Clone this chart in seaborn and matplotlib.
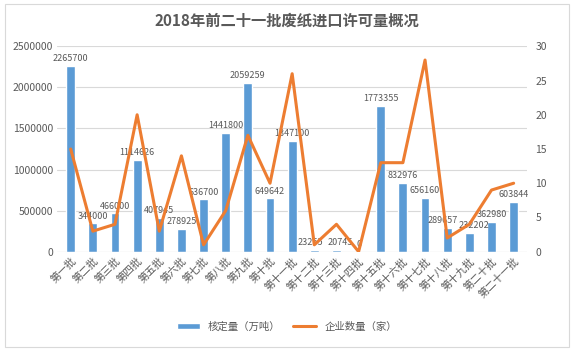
import numpy as np
import pandas as pd
import matplotlib
matplotlib.use("Agg")
import matplotlib.pyplot as plt
import seaborn as sns
from matplotlib.patches import Patch
from matplotlib.lines import Line2D
from matplotlib.ticker import StrMethodFormatter

batches = ['第一批', '第二批', '第三批', '第四批', '第五批', '第六批', '第七批',
           '第八批', '第九批', '第十批', '第十一批', '第十二批', '第十三批', '第十四批',
           '第十五批', '第十六批', '第十七批', '第十八批', '第十九批', '第二十批', '第二十一批']
approved = [2265700, 344000, 466000, 1114626, 407945, 278925, 636700,
            1441800, 2059259, 649642, 1347100, 23255, 20745, 0,
            1773355, 832976, 656160, 289657, 232202, 362980, 603844]
companies = [15, 3, 4, 20, 3, 14, 1, 6, 17, 10, 26, 1, 4, 0,
             13, 13, 28, 2, 4, 9, 10]

bar_color = '#5B9BD5'
line_color = '#ED7D31'
text_color = '#595959'

sns.set_style('white')
plt.rcParams['font.family'] = ['Noto Sans CJK SC', 'DejaVu Sans']

df = pd.DataFrame({'batch': batches, 'approved': approved, 'companies': companies})

fig = plt.figure(figsize=(5.74, 3.51), dpi=100)
ax = fig.add_axes([0.1, 0.283, 0.818, 0.585])

sns.barplot(x='batch', y='approved', data=df, color=bar_color, width=0.4,
            saturation=1, ax=ax)
ax.set_ylim(0, 2500000)
ax.set_yticks(np.arange(0, 2500001, 500000))
ax.yaxis.set_major_formatter(StrMethodFormatter('{x:.0f}'))
ax.grid(axis='y', color='#D9D9D9', linewidth=0.8)
ax.set_axisbelow(True)
ax.set_xlabel('')
ax.set_ylabel('')
for s in ax.spines.values():
    s.set_visible(False)
ax.tick_params(axis='both', length=0, labelsize=7.5, colors=text_color, pad=3)
ax.set_xticks(range(len(batches)))
ax.set_xticklabels(batches, rotation=45, ha='right', rotation_mode='anchor')
ax.axhline(0, color='#D9D9D9', linewidth=0.8)

# data labels on top of the bars; nudge the two crowded pairs apart a little
nudge = {11: -3, 12: 3, 17: -3, 18: 3}
for i, v in enumerate(approved):
    ax.annotate(str(v), (i, v), xytext=(nudge.get(i, 0), 2), textcoords='offset points',
                ha='center', va='bottom', fontsize=6.5, color=text_color)

ax2 = ax.twinx()
sns.lineplot(x=np.arange(len(batches)), y=companies, color=line_color,
             linewidth=2.2, ax=ax2)
ax2.set_ylim(0, 30)
ax2.set_yticks(np.arange(0, 31, 5))
for s in ax2.spines.values():
    s.set_visible(False)
ax2.tick_params(axis='y', length=0, labelsize=7.5, colors=text_color, pad=6)
ax2.set_ylabel('')
ax.set_xlim(-0.6, len(batches) - 0.4)

fig.text(0.5, 0.94, '2018年前二十一批废纸进口许可量概况', ha='center', va='center',
         fontsize=11, fontweight='bold', color=text_color)

handles = [Patch(facecolor=bar_color, label='核定量（万吨）'),
           Line2D([0], [0], color=line_color, linewidth=2.2, label='企业数量（家）')]
fig.legend(handles=handles, loc='center', bbox_to_anchor=(0.5, 0.07), ncol=2,
           frameon=False, fontsize=7.5, labelcolor=text_color,
           handlelength=2.2, handleheight=0.6, columnspacing=1.2)

border = plt.Rectangle((0.008, 0.01), 0.984, 0.98, transform=fig.transFigure,
                       fill=False, edgecolor='#D9D9D9', linewidth=0.8)
fig.patches.append(border)

fig.savefig('out.png', dpi=100)
